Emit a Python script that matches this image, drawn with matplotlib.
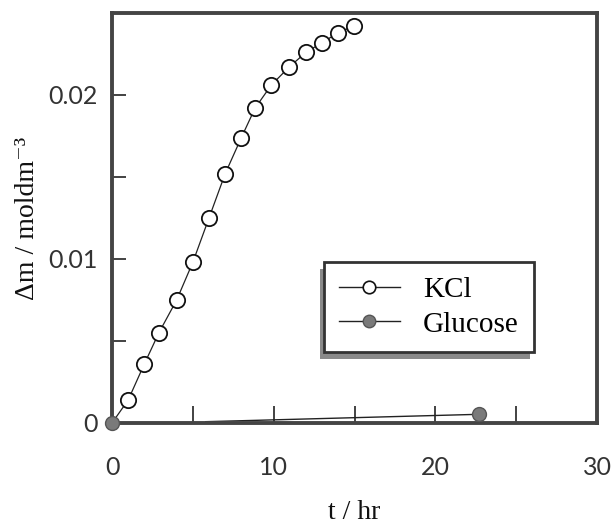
import matplotlib
matplotlib.use("Agg")
import matplotlib.pyplot as plt
from matplotlib.patches import Rectangle
from matplotlib.lines import Line2D

# ---- data ----
kcl_t = [0, 1.0, 2.0, 2.9, 4.0, 5.0, 6.0, 7.0, 8.0, 8.85, 9.85, 10.95, 12.0, 13.0, 14.0, 14.95]
kcl_m = [0.0, 0.0014, 0.0036, 0.0055, 0.0075, 0.0098, 0.0125, 0.0152, 0.0174, 0.0192,
         0.0206, 0.0217, 0.0226, 0.0232, 0.0238, 0.0242]
glucose_t = [0.0, 22.7]
glucose_m = [0.0, 0.00053]
glucose_line_t = [5.8, 22.7]
glucose_line_m = [0.00008, 0.00053]

xticks_major = [0, 10, 20, 30]
xticks_minor = [5, 15, 25]
yticks_major = [0, 0.01, 0.02]
ytick_labels = ["0", "0.01", "0.02"]
yticks_minor = [0.005, 0.015]

W, H = 616, 530
fig = plt.figure(figsize=(W / 100, H / 100), dpi=100)
ax = fig.add_axes([112 / W, 1 - 423 / H, (597 - 112) / W, (423 - 13) / H])

tick_font = dict(family=["Lato", "DejaVu Sans"], fontsize=18, fontweight="normal", color="#333333")
serif = ["Liberation Serif", "DejaVu Serif"]

ax.plot(kcl_t, kcl_m, "-", color="#222222", lw=0.9, zorder=2)
ax.plot(kcl_t[1:], kcl_m[1:], "o", ms=11, mfc="white", mec="#111111", mew=1.3,
        ls="none", zorder=3)
ax.plot(glucose_line_t, glucose_line_m, "-", color="#222222", lw=1.0, zorder=2)
ax.plot(glucose_t, glucose_m, "o", ms=10, mfc="#7a7a7a", mec="#555555", mew=1.0,
        ls="none", zorder=4, clip_on=False)

ax.set_xlim(0, 30)
ax.set_ylim(0, 0.025)
ax.set_xticks(xticks_major)
ax.set_xticks(xticks_minor, minor=True)
ax.set_yticks(yticks_major)
ax.set_yticks(yticks_minor, minor=True)
ax.set_yticklabels(ytick_labels, **tick_font)
ax.set_xticklabels([str(v) for v in xticks_major], **tick_font)

ax.tick_params(axis="x", which="both", direction="in", length=12, width=1.2, color="#222222", pad=24)
ax.tick_params(axis="y", which="both", direction="in", length=10, width=1.2, color="#222222", pad=10)
for s in ax.spines.values():
    s.set_linewidth(2.8)
    s.set_color("#444444")

ax.set_ylabel("Δm / moldm⁻³", family=serif, fontsize=20, color="#111111")
ax.yaxis.set_label_coords((40 - 112) / (597 - 112), 0.5)
ax.set_xlabel("t / hr", family=serif, fontsize=20, color="#111111")
ax.xaxis.set_label_coords(0.5, -(500 - 423) / (423 - 13))

# legend
h_kcl = Line2D([], [], color="#222222", lw=1.0, marker="o", ms=9, mfc="white", mec="#111111", mew=1.2)
h_glu = Line2D([], [], color="#222222", lw=1.0, marker="o", ms=9, mfc="#7a7a7a", mec="#555555", mew=1.0)
leg = ax.legend([h_kcl, h_glu], ["KCl", "Glucose"], loc="upper left",
                bbox_to_anchor=(324 / W, 1 - 262 / H), bbox_transform=fig.transFigure,
                prop=dict(family=serif, size=21), frameon=True, fancybox=False, framealpha=1,
                handlelength=2.1, handletextpad=0.8, labelspacing=0.28, borderpad=0.5,
                borderaxespad=0)
fr = leg.get_frame()
fr.set_edgecolor("#333333")
fr.set_linewidth(2.0)
fr.set_facecolor("white")
leg.set_zorder(5)

fig.canvas.draw()
bb = fr.get_window_extent()
shadow = Rectangle((bb.x0 - 4, bb.y0 - 7), bb.width, bb.height, transform=None,
                   facecolor="#8a8a8a", edgecolor="none", zorder=4)
ax.add_artist(shadow)

fig.savefig("out.png", dpi=100, facecolor="white")
